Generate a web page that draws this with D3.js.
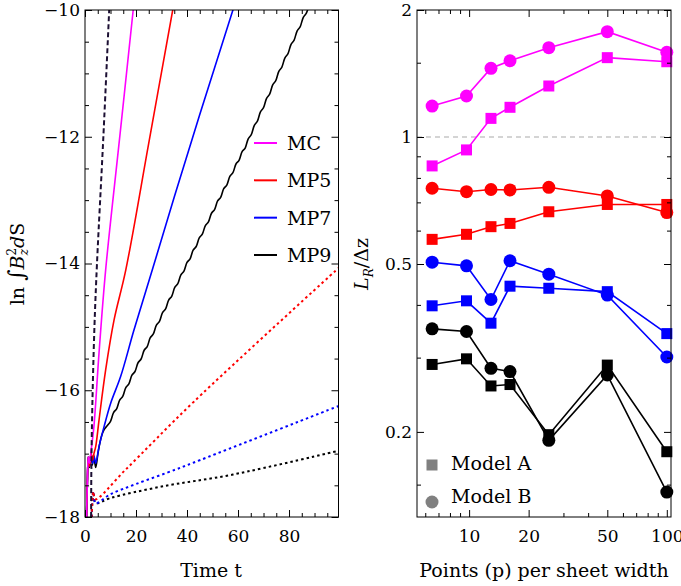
<!DOCTYPE html>
<html><head><meta charset="utf-8">
<script src="https://cdn.jsdelivr.net/npm/d3@7"></script>
<style>
body{margin:0;background:#fff}
svg{display:block}
text{font-family:"DejaVu Serif",serif;fill:#000}
</style>
</head><body><svg id="c" width="681" height="586"></svg>
<script>
// ---------------- Left panel data (time series) ----------------
const mcT  = [0.6, 0.9, 1.3, 1.8, 2.4, 3.5, 5.5, 8.1, 13.5, 18.9, 20];
const mcV  = [-18.0, -17.5, -17.05, -17.15, -16.95, -16.57, -15.41, -14.1, -12.05, -10.0, -9.55];
const mp5T = [0.6, 0.9, 1.3, 1.8, 2.4, 3.0, 3.5, 4.2, 5.5, 8.1, 11.4, 16.0, 25.0, 34.4, 36];
const mp5V = [-18.0, -17.5, -17.05, -17.2, -17.0, -17.1, -17.0, -16.89, -16.47, -15.68, -14.89, -14.1, -12.1, -10.0, -9.65];
const mp7T = [0.6, 0.9, 1.3, 1.8, 2.4, 3.0, 3.6, 4.2, 5.5, 7.5, 10.1, 14.0, 19.2, 26.4, 35.0, 45.0, 58.0, 60];
const mp7V = [-18.0, -17.5, -17.05, -17.2, -17.0, -17.15, -17.05, -17.15, -16.89, -16.57, -16.2, -15.78, -15.05, -14.1, -12.95, -11.65, -10.0, -9.74];
const mp9T = [0.6, 0.9, 1.3, 1.8, 2.3, 2.9, 3.4, 4.2, 5.0, 5.5, 6.5, 7.5, 8.7,
  10.0, 11.2, 12.4, 13.6, 14.8, 16.0, 17.2, 18.4, 19.6, 20.8, 22.0, 23.2, 24.4, 25.6, 26.8, 28.0, 29.2, 30.4,
  31.6, 32.8, 34.0, 35.2, 36.4, 37.6, 38.8, 40.0, 41.2, 42.4, 43.6, 44.8, 46.0, 47.2, 48.4, 49.6, 50.8, 52.0,
  53.2, 54.4, 55.6, 56.8, 58.0, 59.2, 60.4, 61.6, 62.8, 64.0, 65.2, 66.4, 67.6, 68.8, 70.0, 71.2, 72.4, 73.6,
  74.8, 76.0, 77.2, 78.4, 79.6, 80.8, 82.0, 83.2, 84.4, 85.6, 86.8, 88.0];
const mp9V = [-18.0, -17.5, -17.05, -17.22, -17.0, -17.18, -17.02, -17.22, -17.02, -16.9, -16.72, -16.62, -16.56,
  -16.490, -16.352, -16.293, -16.155, -16.097, -15.959, -15.900, -15.762, -15.704, -15.566, -15.507, -15.369, -15.310, -15.171, -15.112, -14.973, -14.914, -14.775,
  -14.716, -14.577, -14.517, -14.378, -14.318, -14.179, -14.120, -13.983, -13.926, -13.789, -13.732, -13.595, -13.538, -13.401, -13.344, -13.207, -13.150, -13.013,
  -12.956, -12.819, -12.762, -12.624, -12.567, -12.430, -12.373, -12.235, -12.178, -12.032, -11.966, -11.819, -11.753, -11.606, -11.540, -11.393, -11.327, -11.180,
  -11.114, -10.967, -10.900, -10.754, -10.687, -10.541, -10.474, -10.328, -10.261, -10.115, -10.048, -9.902];
const dashT = [2.4, 2.5, 2.9, 3.7, 4.7, 7.2, 9.6];
const dashV = [-18.0, -17.2, -16.2, -15.0, -14.0, -12.0, -9.9];
const redDotT = [2.6, 3.3, 4.0, 16.0, 42.7, 100];
const redDotV = [-18.0, -17.6, -17.72, -17.25, -16.18, -14.05];
const blueDotT = [2.6, 3.3, 4.2, 10.0, 20.0, 35.6, 42.7, 100];
const blueDotV = [-18.0, -17.6, -17.78, -17.64, -17.48, -17.25, -17.14, -16.24];
const blackDotT = [2.6, 3.3, 4.2, 10.0, 30.0, 58.0, 100];
const blackDotV = [-18.0, -17.6, -17.78, -17.7, -17.52, -17.33, -16.95];

const leftLegend = ["MC", "MP5", "MP7", "MP9"];
const leftXMajor = [0, 20, 40, 60, 80];
const leftXMinor = [5, 10, 15, 25, 30, 35, 45, 50, 55, 65, 70, 75, 85, 90, 95];
const leftYMajor = [-18, -16, -14, -12, -10];
const leftYMinor = [-17.5, -17, -16.5, -15.5, -15, -14.5, -13.5, -13, -12.5, -11.5, -11, -10.5];

// ---------------- Right panel data ----------------
const pointsP = [6.5, 9.7, 12.9, 16.1, 25.3, 50, 100];
const mcA  = [0.854, 0.932, 1.107, 1.176, 1.321, 1.542, 1.508];
const mcB  = [1.184, 1.251, 1.455, 1.516, 1.628, 1.777, 1.588];
const mp5A = [0.572, 0.588, 0.613, 0.624, 0.665, 0.692, 0.692];
const mp5B = [0.756, 0.742, 0.751, 0.749, 0.760, 0.725, 0.662];
const mp7A = [0.398, 0.409, 0.362, 0.443, 0.438, 0.430, 0.342];
const mp7B = [0.505, 0.495, 0.412, 0.509, 0.473, 0.422, 0.301];
const mp9A = [0.289, 0.298, 0.257, 0.259, 0.197, 0.288, 0.1795];
const mp9B = [0.351, 0.346, 0.283, 0.278, 0.191, 0.273, 0.144];
const rightLegend = ["Model A", "Model B"];
const rightXMajor = [10, 20, 50, 100];
const rightXMinor = [6, 7, 8, 9, 30, 40, 60, 70, 80, 90];
const rightYMajor = [0.2, 0.5, 1, 2];
const rightYMinor = [0.15, 0.3, 0.4, 0.6, 0.7, 0.8, 0.9, 1.5];
const refLine = 1;

const colors = {MC: "#ff00ff", MP5: "#ff0000", MP7: "#0000ff", MP9: "#000000"};

// ---------------- Drawing ----------------
const svg = d3.select("#c");
const MAJ = 7, MIN = 4;

function frame(g, xs, ys, xMaj, xMin, yMaj, yMin, xFmt, yFmt) {
  const [x0, x1] = xs.range(), [y0, y1] = ys.range(); // y0 bottom
  g.append("g").attr("transform", `translate(0,${y0})`)
    .call(d3.axisBottom(xs).tickValues(xMaj).tickSize(-MAJ).tickPadding(13).tickFormat(xFmt));
  g.append("g").attr("transform", `translate(0,${y0})`)
    .call(d3.axisBottom(xs).tickValues(xMin).tickSize(-MIN).tickFormat(""));
  g.append("g").attr("transform", `translate(0,${y1})`)
    .call(d3.axisTop(xs).tickValues(xMaj).tickSize(-MAJ).tickFormat(""));
  g.append("g").attr("transform", `translate(0,${y1})`)
    .call(d3.axisTop(xs).tickValues(xMin).tickSize(-MIN).tickFormat(""));
  g.append("g").attr("transform", `translate(${x0},0)`)
    .call(d3.axisLeft(ys).tickValues(yMaj).tickSize(-MAJ).tickPadding(5).tickFormat(yFmt));
  g.append("g").attr("transform", `translate(${x0},0)`)
    .call(d3.axisLeft(ys).tickValues(yMin).tickSize(-MIN).tickFormat(""));
  g.append("g").attr("transform", `translate(${x1},0)`)
    .call(d3.axisRight(ys).tickValues(yMaj).tickSize(-MAJ).tickFormat(""));
  g.append("g").attr("transform", `translate(${x1},0)`)
    .call(d3.axisRight(ys).tickValues(yMin).tickSize(-MIN).tickFormat(""));
  g.selectAll(".domain").remove();
  g.selectAll(".tick line").attr("stroke", "#000").attr("stroke-width", 1);
  g.selectAll(".tick text").attr("font-family", "DejaVu Serif").attr("font-size", 17).attr("fill", "#000");
  g.append("rect").attr("x", x0).attr("y", y1).attr("width", x1 - x0).attr("height", y0 - y1)
    .attr("fill", "none").attr("stroke", "#000").attr("stroke-width", 1);
}

// ===== Left panel =====
const xL = d3.scaleLinear().domain([0, 99.4]).range([85, 338.5]);
const yL = d3.scaleLinear().domain([-18, -10]).range([517, 10]);
const gL = svg.append("g");
svg.append("clipPath").attr("id", "clipL").append("rect")
  .attr("x", 85).attr("y", 10).attr("width", 253.5).attr("height", 507);
const plotL = gL.append("g").attr("clip-path", "url(#clipL)");
const lineL = d3.line().x(d => xL(d[0])).y(d => yL(d[1])).curve(d3.curveCatmullRom);

function drawL(T, V, color, dash, w) {
  plotL.append("path").datum(d3.zip(T, V)).attr("d", lineL)
    .attr("fill", "none").attr("stroke", color).attr("stroke-width", w)
    .attr("stroke-dasharray", dash || null).attr("stroke-linejoin", "round");
}
drawL(blackDotT, blackDotV, colors.MP9, "2.5,3", 2);
drawL(blueDotT, blueDotV, colors.MP7, "2.5,3", 2);
drawL(redDotT, redDotV, colors.MP5, "2.5,3", 2);
drawL(mp9T, mp9V, colors.MP9, null, 1.6);
drawL(mp7T, mp7V, colors.MP7, null, 1.6);
drawL(mp5T, mp5V, colors.MP5, null, 1.6);
drawL(mcT, mcV, colors.MC, null, 1.6);
drawL(dashT, dashV, "#1c0f33", "5,3", 2);

frame(gL, xL, yL, leftXMajor, leftXMinor, leftYMajor, leftYMinor, d3.format("d"), d3.format("d"));

// legend left
const legY = d3.scalePoint().domain(leftLegend).range([143, 255]);
leftLegend.forEach(k => {
  gL.append("line").attr("x1", 254).attr("x2", 277).attr("y1", legY(k)).attr("y2", legY(k))
    .attr("stroke", colors[k]).attr("stroke-width", 2);
  gL.append("text").attr("x", 287).attr("y", legY(k)).attr("dy", "0.36em")
    .attr("font-size", 19).text(k);
});

// axis labels left
svg.append("text").attr("x", 211).attr("y", 577).attr("text-anchor", "middle")
  .attr("font-size", 19).text("Time t");
const yLab = svg.append("text").attr("transform", "translate(24,264) rotate(-90)")
  .attr("text-anchor", "middle").attr("font-size", 19);
yLab.append("tspan").text("ln ");
yLab.append("tspan").attr("font-size", 22).text("∫");
yLab.append("tspan").attr("font-style", "italic").text("B");
yLab.append("tspan").attr("font-size", 12).attr("dy", -8).text("2");
yLab.append("tspan").attr("font-size", 12).attr("font-style", "italic").attr("dx", -7.5).attr("dy", 12).text("z");
yLab.append("tspan").attr("font-style", "italic").attr("dy", -4).attr("dx", 1).text("d");
yLab.append("tspan").text("S");

// ===== Right panel =====
const xR = d3.scaleLog().domain([5.45, 105]).range([417, 671]);
const yR = d3.scaleLog().domain([0.1257, 2]).range([517, 10]);
const gR = svg.append("g");

gR.append("line").attr("x1", 417).attr("x2", 671).attr("y1", yR(refLine)).attr("y2", yR(refLine))
  .attr("stroke", "#aaaaaa").attr("stroke-width", 1.2).attr("stroke-dasharray", "5,4");

const lineR = d3.line().x(d => xR(d[0])).y(d => yR(d[1]));
const seriesR = [
  ["MC", mcA, mcB], ["MP5", mp5A, mp5B], ["MP7", mp7A, mp7B], ["MP9", mp9A, mp9B]
];
seriesR.forEach(([k, A, B]) => {
  const c = colors[k];
  const dA = d3.zip(pointsP, A), dB = d3.zip(pointsP, B);
  gR.append("path").datum(dA).attr("d", lineR).attr("fill", "none").attr("stroke", c).attr("stroke-width", 1.6);
  gR.append("path").datum(dB).attr("d", lineR).attr("fill", "none").attr("stroke", c).attr("stroke-width", 1.6);
  gR.selectAll(null).data(dA).join("rect")
    .attr("x", d => xR(d[0]) - 5.5).attr("y", d => yR(d[1]) - 5.5)
    .attr("width", 11).attr("height", 11).attr("fill", c);
  gR.selectAll(null).data(dB).join("circle")
    .attr("cx", d => xR(d[0])).attr("cy", d => yR(d[1])).attr("r", 6.5).attr("fill", c);
});

frame(gR, xR, yR, rightXMajor, rightXMinor, rightYMajor, rightYMinor, d => String(d), d => String(d));

// legend right
gR.append("rect").attr("x", 432 - 5.5).attr("y", 465 - 5.5).attr("width", 11).attr("height", 11).attr("fill", "#808080");
gR.append("text").attr("x", 451).attr("y", 470).attr("font-size", 19).text(rightLegend[0]);
gR.append("circle").attr("cx", 432).attr("cy", 502).attr("r", 6.5).attr("fill", "#808080");
gR.append("text").attr("x", 451).attr("y", 503).attr("font-size", 19).text(rightLegend[1]);

svg.append("text").attr("x", 544).attr("y", 577).attr("text-anchor", "middle")
  .attr("font-size", 19).text("Points (p) per sheet width");
const rLab = svg.append("text").attr("transform", "translate(368,264) rotate(-90)")
  .attr("text-anchor", "middle").attr("font-size", 19);
rLab.append("tspan").attr("font-style", "italic").text("L");
rLab.append("tspan").attr("font-style", "italic").attr("font-size", 12).attr("dy", 5).text("R");
rLab.append("tspan").attr("dy", -5).text("/Δz");
</script></body></html>
